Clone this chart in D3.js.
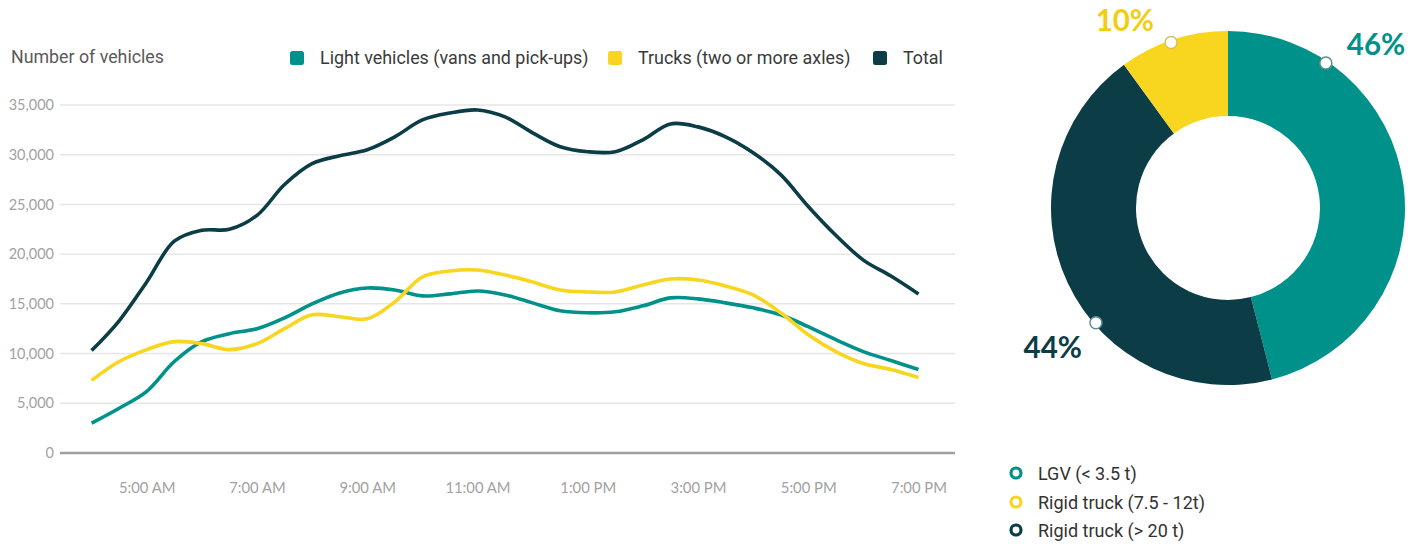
<!DOCTYPE html>
<html>
<head>
<meta charset="utf-8">
<script src="https://cdn.jsdelivr.net/npm/d3@7/dist/d3.min.js"></script>
<style>
  html, body { margin: 0; padding: 0; background: #ffffff; }
  svg { display: block; }
</style>
</head>
<body>
<svg id="chart" width="1424" height="544"></svg>
<script>
// Hours of the day (4:00 to 19:00, half-hour steps)
const hours = [4, 4.5, 5, 5.5, 6, 6.5, 7, 7.5, 8, 8.5, 9, 9.5, 10, 10.5, 11, 11.5,
               12, 12.5, 13, 13.5, 14, 14.5, 15, 15.5, 16, 16.5, 17, 17.5, 18, 18.5, 19];

// Light vehicles (vans and pick-ups)
const lightVehicles = [3000, 4500, 6200, 9200, 11200, 12000, 12500, 13600, 15000, 16100, 16600,
                       16400, 15800, 16000, 16300, 15900, 15100, 14300, 14100, 14200, 14800,
                       15600, 15500, 15100, 14600, 13900, 12700, 11400, 10200, 9300, 8400];

// Trucks (two or more axles)
const trucks = [7300, 9200, 10400, 11200, 11000, 10400, 11000, 12500, 13900, 13700, 13500,
                15200, 17700, 18300, 18400, 17900, 17200, 16400, 16200, 16200, 16900,
                17500, 17400, 16800, 15900, 14100, 11900, 10200, 9000, 8400, 7600];

// Total
const total = [10300, 13300, 17200, 21300, 22400, 22500, 23900, 27000, 29100, 29900, 30500,
               31800, 33500, 34200, 34500, 33800, 32200, 30800, 30300, 30300, 31500,
               33100, 32800, 31800, 30200, 28000, 24800, 21900, 19400, 17800, 16000];

const seriesNames = ["Light vehicles (vans and pick-ups)", "Trucks (two or more axles)", "Total"];
const seriesColors = ["#00928a", "#f8d51f", "#0c3d47"];

const yTicks = [0, 5000, 10000, 15000, 20000, 25000, 30000, 35000];
const xTickHours = [5, 7, 9, 11, 13, 15, 17, 19];
const xTickLabels = ["5:00 AM", "7:00 AM", "9:00 AM", "11:00 AM", "1:00 PM", "3:00 PM", "5:00 PM", "7:00 PM"];

// Vehicle mix (donut)
const mixNames = ["LGV (< 3.5 t)", "Rigid truck (7.5 - 12t)", "Rigid truck (> 20 t)"];
const mixShares = [46, 10, 44];
const mixColors = ["#00928a", "#f8d51f", "#0c3d47"];
const mixLabelColors = ["#00928a", "#f3cd12", "#0c3d47"];
const mixDrawOrder = [0, 2, 1];           // clockwise from 12 o'clock
const mixCalloutAngles = [34, 341, 229];  // degrees, where each callout dot sits on the ring
const mixLabelOffsets = [[21, -8, "start"], [-17, -12, "end"], [-14, 35, "end"]];

const svg = d3.select("#chart");

// ---------- Line chart ----------
const plotLeft = 60, plotRight = 955;
const x = d3.scaleLinear().domain([4, 19]).range([91.6, 918.5]);
const y = d3.scaleLinear().domain([0, 35000]).range([453, 105]);

const grid = svg.append("g");
grid.selectAll("line")
  .data(yTicks.filter(d => d > 0))
  .join("line")
  .attr("x1", plotLeft).attr("x2", plotRight)
  .attr("y1", d => y(d)).attr("y2", d => y(d))
  .attr("stroke", "#e6e6e6").attr("stroke-width", 1.5);

// y axis labels
const yAxis = d3.axisLeft(y).tickValues(yTicks).tickFormat(d3.format(",")).tickSize(0).tickPadding(0);
const yg = svg.append("g").attr("transform", `translate(${plotLeft - 6},0)`).call(yAxis);
yg.select(".domain").remove();
yg.selectAll("text")
  .attr("font-family", "Lato, sans-serif").attr("font-size", 14.5)
  .attr("fill", "#a2a2a2").attr("font-weight", 400);

// baseline
svg.append("line")
  .attr("x1", plotLeft).attr("x2", plotRight)
  .attr("y1", y(0)).attr("y2", y(0))
  .attr("stroke", "#a0a0a0").attr("stroke-width", 2.5);

// x axis labels
const xAxis = d3.axisBottom(x).tickValues(xTickHours)
  .tickFormat((d, i) => xTickLabels[i]).tickSize(0).tickPadding(0);
const xg = svg.append("g").attr("transform", `translate(0,${y(0) + 29})`).call(xAxis);
xg.select(".domain").remove();
xg.selectAll("text")
  .attr("font-family", "Lato, sans-serif").attr("font-size", 14.8)
  .attr("fill", "#a2a2a2").attr("font-weight", 400);

// lines
const line = d3.line()
  .x((d, i) => x(hours[i]))
  .y(d => y(d))
  .curve(d3.curveCatmullRom.alpha(0.5));

[lightVehicles, trucks, total].forEach((vals, k) => {
  svg.append("path")
    .datum(vals)
    .attr("d", line)
    .attr("fill", "none")
    .attr("stroke", seriesColors[k])
    .attr("stroke-width", 3.6)
    .attr("stroke-linejoin", "round");
});

// axis title
svg.append("text")
  .attr("x", 11).attr("y", 63)
  .attr("font-family", "Roboto, sans-serif").attr("font-size", 17.8)
  .attr("fill", "#5a5a5a")
  .text("Number of vehicles");

// legend
const legendX = [290, 608, 873];
const legend = svg.append("g");
seriesNames.forEach((name, i) => {
  legend.append("rect")
    .attr("x", legendX[i]).attr("y", 51)
    .attr("width", 14).attr("height", 14).attr("rx", 2.5)
    .attr("fill", seriesColors[i]);
  legend.append("text")
    .attr("x", legendX[i] + 30).attr("y", 64)
    .attr("font-family", "Roboto, sans-serif").attr("font-size", 17.9)
    .attr("fill", "#3a3a3a")
    .text(name);
});

// ---------- Donut ----------
const cx = 1228, cy = 208, rOuter = 177, rInner = 92;
const donut = svg.append("g").attr("transform", `translate(${cx},${cy})`);
const pie = d3.pie().sort(null).value(i => mixShares[i]);
const arcs = pie(mixDrawOrder);
const arc = d3.arc().innerRadius(rInner).outerRadius(rOuter);

donut.selectAll("path.slice")
  .data(arcs)
  .join("path")
  .attr("class", "slice")
  .attr("d", arc)
  .attr("fill", d => mixColors[d.data]);

// callout dots and percentage labels
mixNames.forEach((name, i) => {
  const a = mixCalloutAngles[i] * Math.PI / 180;
  const px = Math.sin(a) * (rOuter - 2), py = -Math.cos(a) * (rOuter - 2);
  donut.append("circle")
    .attr("cx", px).attr("cy", py).attr("r", 6)
    .attr("fill", "#ffffff")
    .attr("stroke", i === 1 ? "#d8c25a" : "#5f8e92").attr("stroke-width", 1.5);
  const [dx, dy, anchor] = mixLabelOffsets[i];
  donut.append("text")
    .attr("x", px + dx).attr("y", py + dy)
    .attr("text-anchor", anchor)
    .attr("font-family", "Lato, sans-serif").attr("font-weight", 700)
    .attr("font-size", 29.5)
    .attr("fill", mixLabelColors[i])
    .text(mixShares[i] + "%");
});

// donut legend
const dLegend = svg.append("g");
const dLegendY = [473, 502, 530];
mixNames.forEach((name, i) => {
  dLegend.append("circle")
    .attr("cx", 1016).attr("cy", dLegendY[i]).attr("r", 5)
    .attr("fill", "#ffffff")
    .attr("stroke", mixColors[i]).attr("stroke-width", 3.2);
  dLegend.append("text")
    .attr("x", 1038).attr("y", dLegendY[i] + 6.5)
    .attr("font-family", "Roboto, sans-serif").attr("font-size", 18)
    .attr("fill", "#333333")
    .text(name);
});
</script>
</body>
</html>
